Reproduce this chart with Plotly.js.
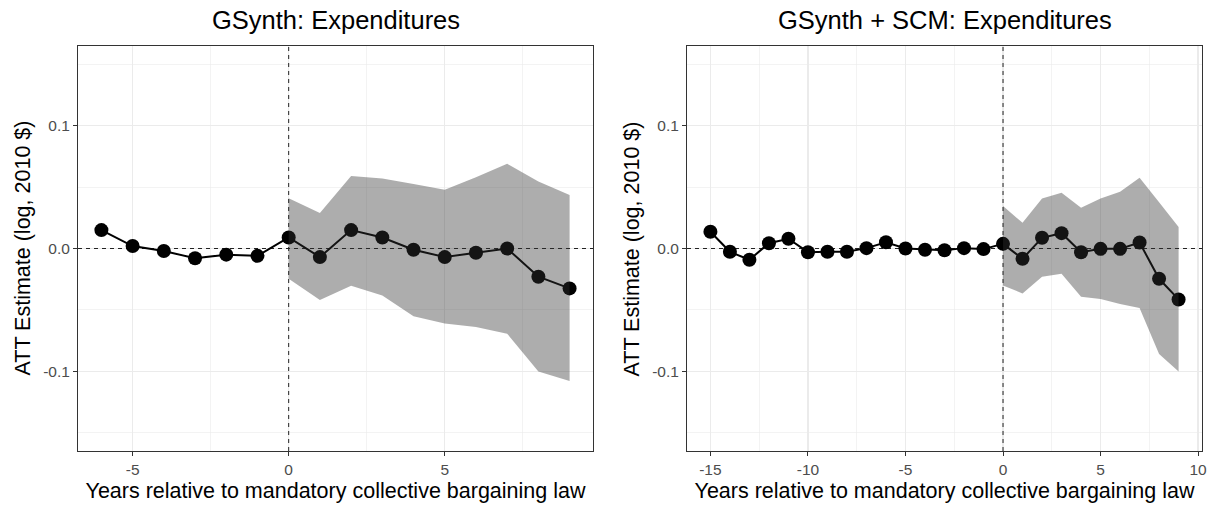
<!DOCTYPE html>
<html>
<head>
<meta charset="utf-8">
<script src="https://cdn.plot.ly/plotly-3.0.1.min.js"></script>
<style>
  html, body { margin: 0; padding: 0; background: #fff; }
  #chart { width: 1219px; height: 508px; }
</style>
</head>
<body>
<div id="chart"></div>
<script>
// ---- GSynth: event-time ATT estimates ----
const yearsGsynth = [-6, -5, -4, -3, -2, -1, 0, 1, 2, 3, 4, 5, 6, 7, 8, 9];
const attGsynth = [0.015, 0.002, -0.002, -0.008, -0.005, -0.006, 0.009, -0.007,
                   0.015, 0.009, -0.001, -0.007, -0.0035, 0.0, -0.023, -0.0325];
const postYearsGsynth = [0, 1, 2, 3, 4, 5, 6, 7, 8, 9];
const upperGsynth = [0.041, 0.029, 0.059, 0.057, 0.0525, 0.0478, 0.058, 0.069, 0.0545, 0.0436];
const lowerGsynth = [-0.0247, -0.042, -0.0304, -0.0382, -0.0553, -0.0612, -0.064, -0.0694, -0.1003, -0.1079];

// ---- GSynth + SCM: event-time ATT estimates ----
const yearsScm = [-15, -14, -13, -12, -11, -10, -9, -8, -7, -6, -5, -4, -3, -2, -1,
                  0, 1, 2, 3, 4, 5, 6, 7, 8, 9];
const attScm = [0.0136, -0.0027, -0.0092, 0.0043, 0.0079, -0.003, -0.0027, -0.0027,
                0.0003, 0.0051, 0.0, -0.001, -0.0014, 0.0003, -0.0005,
                0.0038, -0.0084, 0.0087, 0.0125, -0.003, -0.0003, -0.0003, 0.0049, -0.0247, -0.0415];
const postYearsScm = [0, 1, 2, 3, 4, 5, 6, 7, 8, 9];
const upperScm = [0.0347, 0.0209, 0.0407, 0.0455, 0.0333, 0.0407, 0.0463, 0.0577, 0.0377, 0.0175];
const lowerScm = [-0.0301, -0.0366, -0.023, -0.0206, -0.0393, -0.0412, -0.0453, -0.0485, -0.0859, -0.1003];

// ---- Axis labels ----
const panelTitles = ['GSynth: Expenditures', 'GSynth + SCM: Expenditures'];
const xTitle = 'Years relative to mandatory collective bargaining law';
const yTitle = 'ATT Estimate (log, 2010 $)';
const yTickVals = [-0.1, 0, 0.1];
const yTickText = ['-0.1', '0.0', '0.1'];
const xTickValsGsynth = [-5, 0, 5];
const xTickTextGsynth = ['-5', '0', '5'];
const xTickValsScm = [-15, -10, -5, 0, 5, 10];
const xTickTextScm = ['-15', '-10', '-5', '0', '5', '10'];

// axis extents (data range plus 5% padding)
const yRange = [-0.165, 0.165];
const xRangeGsynth = [-6.75, 9.75];
const xRangeScm = [-16.2, 10.2];

const W = 1219, H = 508;
const FONT = 'Liberation Sans, Arial, Helvetica, sans-serif';
const GRID = '#EBEBEB';
const FRAME = '#333333';

// panel placement in pixels
const panelLeft = { x0: 78, x1: 593 };
const panelRight = { x0: 687, x1: 1202 };
const panelTop = 46, panelBottom = 451;

const px = v => v / W;
const py = v => 1 - v / H;

function ribbon(xs, up, lo) {
  return {
    x: xs.concat(xs.slice().reverse()),
    y: up.concat(lo.slice().reverse())
  };
}

// dashed reference lines at zero effect and at the law's adoption year
function zeroLines(xRange, xa, ya) {
  const style = { color: '#222222', width: 1, dash: '4px,4px' };
  return [
    { type: 'scatter', mode: 'lines', x: xRange, y: [0, 0], xaxis: xa, yaxis: ya,
      line: style, hoverinfo: 'skip', showlegend: false },
    { type: 'scatter', mode: 'lines', x: [0, 0], y: yRange, xaxis: xa, yaxis: ya,
      line: style, hoverinfo: 'skip', showlegend: false }
  ];
}

function estimateTrace(x, y, xa, ya) {
  return {
    type: 'scatter', mode: 'lines+markers', x: x, y: y, xaxis: xa, yaxis: ya,
    line: { color: '#000000', width: 2 },
    marker: { color: '#000000', size: 14 },
    hoverinfo: 'x+y', showlegend: false, cliponaxis: false
  };
}

function bandTrace(xs, up, lo, xa, ya) {
  const r = ribbon(xs, up, lo);
  return {
    type: 'scatter', mode: 'lines', x: r.x, y: r.y, xaxis: xa, yaxis: ya,
    fill: 'toself', fillcolor: 'rgba(51,51,51,0.4)',
    line: { width: 0 }, hoverinfo: 'skip', showlegend: false
  };
}

const traces = []
  .concat(zeroLines(xRangeGsynth, 'x', 'y'))
  .concat([estimateTrace(yearsGsynth, attGsynth, 'x', 'y'),
           bandTrace(postYearsGsynth, upperGsynth, lowerGsynth, 'x', 'y')])
  .concat(zeroLines(xRangeScm, 'x2', 'y2'))
  .concat([estimateTrace(yearsScm, attScm, 'x2', 'y2'),
           bandTrace(postYearsScm, upperScm, lowerScm, 'x2', 'y2')]);

const tickFont = { family: FONT, size: 15.5, color: '#4D4D4D' };
const axisTitleFont = { family: FONT, size: 21.5, color: '#000000' };
const titleFont = { family: FONT, size: 25.5, color: '#000000' };

function xAxis(domain, range, vals, text, anchor) {
  return {
    domain: domain, range: range, anchor: anchor,
    tickmode: 'array', tickvals: vals, ticktext: text,
    ticks: 'outside', ticklen: 4, tickwidth: 1, tickcolor: FRAME,
    tickfont: tickFont,
    showline: true, linecolor: FRAME, linewidth: 1, mirror: true,
    showgrid: true, gridcolor: GRID, gridwidth: 1.2,
    // minor grid halfway between labelled years
    minor: { tick0: 2.5, dtick: 5, showgrid: true, gridcolor: GRID, gridwidth: 0.6, ticks: '' },
    zeroline: false,
    title: { text: xTitle, font: axisTitleFont, standoff: 6 },
    fixedrange: true
  };
}

function yAxis(domain, anchor) {
  return {
    domain: domain, range: yRange, anchor: anchor,
    tickmode: 'array', tickvals: yTickVals, ticktext: yTickText,
    ticks: 'outside', ticklen: 4, tickwidth: 1, tickcolor: FRAME,
    tickfont: tickFont,
    showline: true, linecolor: FRAME, linewidth: 1, mirror: true,
    showgrid: true, gridcolor: GRID, gridwidth: 1.2,
    minor: { tick0: 0.05, dtick: 0.1, showgrid: true, gridcolor: GRID, gridwidth: 0.6, ticks: '' },
    zeroline: false,
    fixedrange: true
  };
}

const yDomain = [py(panelBottom), py(panelTop)];

function label(text, xPix, yPix, font, angle) {
  return {
    text: text, xref: 'paper', yref: 'paper', x: px(xPix), y: py(yPix),
    xanchor: 'center', yanchor: 'middle', showarrow: false, font: font,
    textangle: angle || 0
  };
}

const panelMidY = (panelTop + panelBottom) / 2;

const layout = {
  width: W, height: H,
  margin: { l: 0, r: 0, t: 0, b: 0 },
  paper_bgcolor: '#ffffff', plot_bgcolor: '#ffffff',
  showlegend: false,
  xaxis: xAxis([px(panelLeft.x0), px(panelLeft.x1)], xRangeGsynth, xTickValsGsynth, xTickTextGsynth, 'y'),
  yaxis: yAxis(yDomain, 'x'),
  xaxis2: xAxis([px(panelRight.x0), px(panelRight.x1)], xRangeScm, xTickValsScm, xTickTextScm, 'y2'),
  yaxis2: yAxis(yDomain, 'x2'),
  annotations: [
    label(panelTitles[0], (panelLeft.x0 + panelLeft.x1) / 2, 20, titleFont),
    label(panelTitles[1], (panelRight.x0 + panelRight.x1) / 2, 20, titleFont),
    label(yTitle, 22, panelMidY, axisTitleFont, -90),
    label(yTitle, 631, panelMidY, axisTitleFont, -90)
  ]
};

Plotly.newPlot('chart', traces, layout, { displayModeBar: false, staticPlot: true });
</script>
</body>
</html>
